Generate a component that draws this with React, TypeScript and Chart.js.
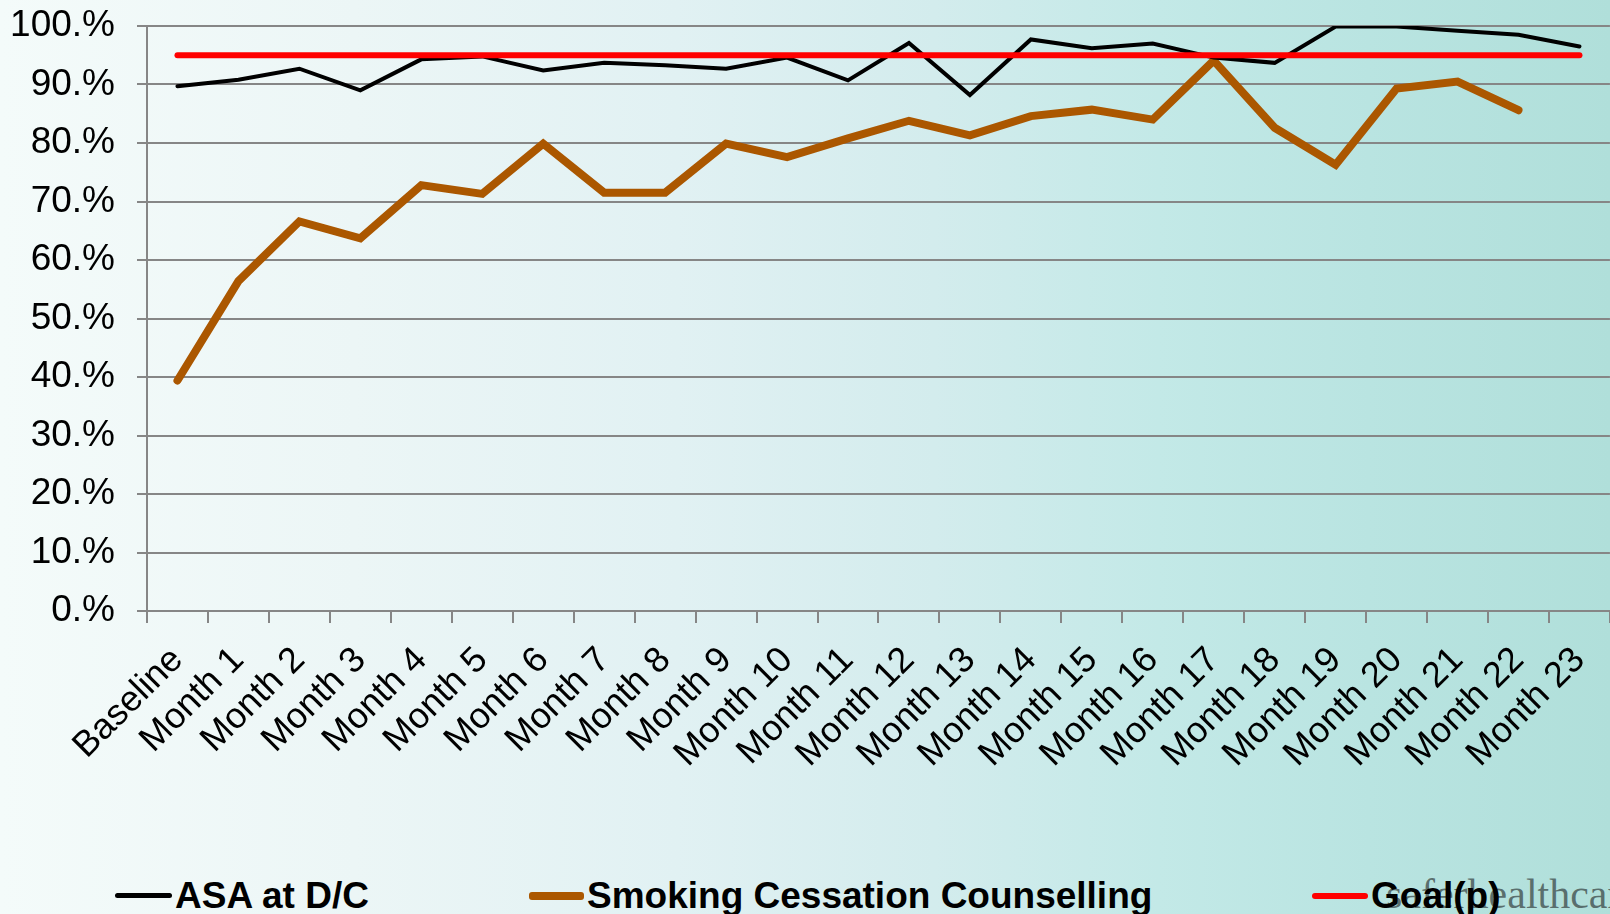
import React, { useEffect, useRef } from 'react';
import { Chart, registerables } from 'chart.js';

Chart.register(...registerables);

const categories = [
  'Baseline', 'Month 1', 'Month 2', 'Month 3', 'Month 4', 'Month 5', 'Month 6', 'Month 7',
  'Month 8', 'Month 9', 'Month 10', 'Month 11', 'Month 12', 'Month 13', 'Month 14', 'Month 15',
  'Month 16', 'Month 17', 'Month 18', 'Month 19', 'Month 20', 'Month 21', 'Month 22', 'Month 23',
];

const asaValues = [
  89.7, 90.8, 92.7, 89.0, 94.3, 94.8, 92.4, 93.7, 93.3, 92.7, 94.6, 90.7,
  97.1, 88.2, 97.7, 96.2, 97.0, 94.6, 93.7, 99.9, 99.9, 99.2, 98.5, 96.5,
];

const smokingValues = [
  39.4, 56.4, 66.6, 63.7, 72.8, 71.3, 79.9, 71.5, 71.5, 79.9, 77.6, 80.8,
  83.8, 81.3, 84.6, 85.7, 84.0, 94.1, 82.6, 76.3, 89.3, 90.5, 85.6, null,
];

const goalValues = [
  95, 95, 95, 95, 95, 95, 95, 95, 95, 95, 95, 95,
  95, 95, 95, 95, 95, 95, 95, 95, 95, 95, 95, 95,
];

const seriesNames = ['ASA at D/C', 'Smoking Cessation Counselling', 'Goal(p)'];
const seriesColors = ['#000000', '#AB5700', '#FF0000'];
const seriesWidths = [4, 8, 6];
const legendLineWidths = [5, 8, 6];
const yTickSuffix = '.%';

const FONT = "'Liberation Sans', Arial, sans-serif";
const W = 1626;
const H = 800;
const PLOT_LEFT = 147;
const PLOT_TOP = 26;
const PLOT_BOTTOM = 611;
const GRID = '#868686';

export default function App() {
  const ref = useRef<HTMLCanvasElement>(null);

  useEffect(() => {
    const values = [asaValues, smokingValues, goalValues];
    const orders = [1, 2, 0];
    const chart = new Chart(ref.current as HTMLCanvasElement, {
      type: 'line',
      data: {
        labels: categories,
        datasets: values.map((v, i) => ({
          label: seriesNames[i],
          data: v,
          borderColor: seriesColors[i],
          backgroundColor: seriesColors[i],
          borderWidth: seriesWidths[i],
          pointRadius: 0,
          pointHoverRadius: 0,
          tension: 0,
          fill: false,
          borderCapStyle: 'round',
          borderJoinStyle: 'miter',
          order: orders[i],
        })),
      },
      options: {
        animation: false,
        responsive: false,
        maintainAspectRatio: false,
        layout: { padding: { top: PLOT_TOP, left: 0, right: 0, bottom: 0 } },
        plugins: { legend: { display: false }, tooltip: { enabled: false } },
        scales: {
          x: {
            offset: true,
            grid: {
              offset: true,
              drawOnChartArea: false,
              drawTicks: true,
              tickLength: 12,
              color: GRID,
              lineWidth: 2,
            },
            border: { color: GRID, width: 2 },
            ticks: {
              autoSkip: false,
              minRotation: 45,
              maxRotation: 45,
              padding: 16,
              color: '#000',
              font: { family: FONT, size: 36 },
            },
            afterFit: (s: any) => {
              s.height = H - PLOT_BOTTOM;
            },
          },
          y: {
            min: 0,
            max: 100,
            ticks: {
              stepSize: 10,
              padding: 22,
              color: '#000',
              font: { family: FONT, size: 37 },
              callback: (v: any) => `${v}${yTickSuffix}`,
            },
            grid: { color: GRID, lineWidth: 2, tickLength: 10 },
            border: { color: GRID, width: 2 },
            afterFit: (s: any) => {
              s.width = PLOT_LEFT;
              s.paddingTop = 0;
              s.paddingBottom = 0;
            },
          },
        },
      },
    });
    return () => chart.destroy();
  }, []);

  const legendLefts = [115, 529, 1312];
  const legendLineLens = [57, 55, 56];

  return (
    <div
      style={{
        position: 'fixed',
        left: 0,
        top: 0,
        width: 1610,
        height: 914,
        overflow: 'hidden',
        background:
          'linear-gradient(to right, #f4fbfa 0%, #ecf6f6 22%, #e1f1f3 42%, #d3eced 58%, #c3e9e7 72%, #b9e4e1 85%, #b0dfda 100%)',
      }}
    >
      <canvas
        ref={ref}
        width={W}
        height={H}
        style={{ position: 'absolute', left: 0, top: 0, width: W, height: H }}
      />
      <div
        style={{
          position: 'absolute',
          left: 1386,
          top: 873,
          fontFamily: "'Liberation Serif', 'DejaVu Serif', serif",
          fontSize: 42,
          lineHeight: '42px',
          color: 'rgba(50,60,60,0.7)',
          whiteSpace: 'nowrap',
        }}
      >
        saferhealthcare
      </div>
      {seriesNames.map((name, i) => (
        <div
          key={name}
          style={{
            position: 'absolute',
            left: legendLefts[i],
            top: 877,
            height: 37,
            display: 'flex',
            alignItems: 'center',
            whiteSpace: 'nowrap',
          }}
        >
          <div
            style={{
              width: legendLineLens[i],
              height: legendLineWidths[i],
              background: seriesColors[i],
              borderRadius: 3,
              marginRight: 3,
            }}
          />
          <span
            style={{
              fontFamily: FONT,
              fontWeight: 'bold',
              fontSize: 37,
              lineHeight: '37px',
              color: '#000',
            }}
          >
            {name}
          </span>
        </div>
      ))}
    </div>
  );
}
